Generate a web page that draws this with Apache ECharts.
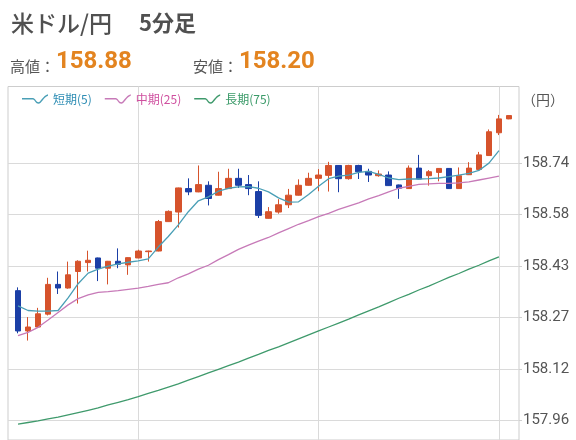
<!DOCTYPE html>
<html><head><meta charset="utf-8">
<script src="https://cdn.jsdelivr.net/npm/echarts@6/dist/echarts.min.js"></script>
<style>html,body{margin:0;padding:0;background:#fff}#c{width:576px;height:440px}</style>
</head><body><div id="c"></div>
<script>
const times = ['11:00','11:05','11:10','11:15','11:20','11:25','11:30','11:35','11:40','11:45',
 '11:50','11:55','12:00','12:05','12:10','12:15','12:20','12:25','12:30','12:35',
 '12:40','12:45','12:50','12:55','13:00','13:05','13:10','13:15','13:20','13:25',
 '13:30','13:35','13:40','13:45','13:50','13:55','14:00','14:05','14:10','14:15',
 '14:20','14:25','14:30','14:35','14:40','14:45','14:50','14:55','15:00','15:05'];
const openV = [158.352,158.230,158.242,158.281,158.371,158.360,158.410,158.437,158.451,158.420,
 158.441,158.430,158.451,158.470,158.472,158.561,158.590,158.661,158.651,158.671,
 158.641,158.661,158.692,158.673,158.652,158.571,158.590,158.612,158.641,158.671,
 158.692,158.701,158.731,158.691,158.731,158.713,158.700,158.702,158.672,158.661,
 158.723,158.700,158.710,158.722,158.661,158.703,158.719,158.761,158.830,158.872];
const closeV = [158.230,158.242,158.282,158.371,158.360,158.400,158.441,158.444,158.420,158.441,
 158.432,158.452,158.472,158.472,158.561,158.592,158.663,158.651,158.673,158.631,
 158.661,158.692,158.671,158.661,158.580,158.591,158.612,158.641,158.671,158.692,
 158.702,158.731,158.691,158.731,158.712,158.702,158.705,158.670,158.662,158.723,
 158.690,158.712,158.722,158.661,158.700,158.723,158.763,158.833,158.872,158.882];
const lowV = [158.223,158.201,158.240,158.277,158.342,158.358,158.313,158.410,158.381,158.371,
 158.420,158.400,158.450,158.440,158.471,158.560,158.543,158.641,158.650,158.610,
 158.640,158.660,158.663,158.641,158.572,158.570,158.585,158.602,158.640,158.670,
 158.653,158.652,158.650,158.688,158.690,158.681,158.697,158.669,158.630,158.660,
 158.689,158.670,158.683,158.660,158.660,158.702,158.718,158.760,158.823,158.871];
const highV = [158.362,158.272,158.300,158.391,158.410,158.440,158.444,158.473,158.452,158.442,
 158.480,158.453,158.476,158.473,158.566,158.595,158.664,158.692,158.731,158.683,
 158.712,158.721,158.721,158.702,158.683,158.605,158.629,158.660,158.689,158.709,
 158.720,158.742,158.732,158.733,158.733,158.721,158.716,158.713,158.673,158.731,
 158.763,158.717,158.723,158.723,158.725,158.741,158.772,158.840,158.884,158.883];
const ma5 = [158.306,158.292,158.290,158.290,158.292,158.330,158.373,158.405,158.417,158.426,
 158.433,158.438,158.442,158.448,158.484,158.516,158.551,158.591,158.624,158.636,
 158.653,158.662,158.666,158.667,158.662,158.651,158.633,158.620,158.621,158.643,
 158.668,158.691,158.699,158.702,158.710,158.713,158.704,158.693,158.688,158.690,
 158.690,158.691,158.693,158.697,158.702,158.707,158.716,158.738,158.776];
const ma25 = [158.216,158.226,158.241,158.263,158.286,158.309,158.328,158.339,158.347,158.349,
 158.352,158.356,158.360,158.365,158.371,158.376,158.391,158.403,158.417,158.429,
 158.446,158.461,158.477,158.490,158.502,158.513,158.527,158.540,158.553,158.564,
 158.576,158.586,158.598,158.608,158.618,158.630,158.640,158.651,158.662,158.668,
 158.674,158.675,158.677,158.677,158.678,158.681,158.687,158.693,158.699];
const ma75 = [157.948,157.953,157.958,157.964,157.969,157.976,157.983,157.990,157.997,158.006,
 158.014,158.022,158.031,158.041,158.050,158.060,158.070,158.081,158.092,158.103,
 158.114,158.125,158.136,158.148,158.159,158.171,158.182,158.194,158.206,158.218,
 158.230,158.242,158.254,158.266,158.279,158.291,158.303,158.316,158.329,158.341,
 158.354,158.366,158.379,158.392,158.404,158.417,158.429,158.442,158.454];
const yTicks = [157.96, 158.1156, 158.2712, 158.4268, 158.5824, 158.738];
const gridTimes = ['12:00','13:30','15:00'];
const seriesNames = ['短期(5)','中期(25)','長期(75)'];
const highText = '158.88', lowText = '158.20';

const cats = [''].concat(times, ['']);
const candle = times.map((t, i) => [i + 1, openV[i], closeV[i], lowV[i], highV[i]]);
const toLine = arr => arr.map((v, i) => [i + 1, v]);

const UP = '#d6532c', DOWN = '#1b3fa6';
const C5 = '#4a9fb6', C25 = '#c77ab8', C75 = '#3f9a6c';
const wave = 'path://M0,4.3 L11,4.3 C13,4.3 14.5,8.6 16.5,8.6 C18.5,8.6 21,2 26,0.6 L26,2 C21.8,3.3 19.5,10 16.5,10 C13.8,10 12.5,5.7 11,5.7 L0,5.7 Z';
const cjk = '"Noto Sans CJK JP", "Noto Sans", sans-serif';

const chart = echarts.init(document.getElementById('c'), null, {renderer: 'canvas'});
chart.setOption({
  animation: false,
  backgroundColor: '#fff',
  grid: {left: 8, right: 57, top: 86.5, height: 366.8, show: true, borderColor: '#cdcdcd', borderWidth: 1},
  legend: {
    left: 22, top: 93, padding: 0, itemWidth: 26, itemHeight: 10, itemGap: 13, icon: wave,
    textStyle: {fontSize: 12, fontFamily: cjk},
    data: [
      {name: seriesNames[0], textStyle: {color: '#2e8db4'}},
      {name: seriesNames[1], textStyle: {color: '#cf4f9f'}},
      {name: seriesNames[2], textStyle: {color: '#3a9a68'}}
    ]
  },
  xAxis: {
    type: 'category', data: cats, boundaryGap: false,
    axisLine: {show: false}, axisTick: {show: false}, axisLabel: {show: false},
    splitLine: {show: true, interval: (idx, val) => gridTimes.includes(val), lineStyle: {color: '#dadada', width: 1}}
  },
  yAxis: {
    type: 'value', position: 'right', min: 157.90, max: 158.97,
    axisLine: {show: false},
    axisTick: {show: true, inside: false, length: 3, customValues: yTicks, lineStyle: {color: '#d0d0d0'}},
    axisLabel: {customValues: yTicks, formatter: v => v.toFixed(2), margin: 4, color: '#555',
      fontSize: 15, fontFamily: 'Roboto'},
    splitLine: {show: true, lineStyle: {color: '#dadada', width: 1}}
  },
  series: [
    {type: 'candlestick', data: candle, encode: {x: 0, y: [1, 2, 3, 4]}, barWidth: 6,
     itemStyle: {color: UP, color0: DOWN, borderColor: UP, borderColor0: DOWN, borderWidth: 1}},
    {name: seriesNames[0], type: 'line', data: toLine(ma5), showSymbol: false, symbol: 'none',
     lineStyle: {color: C5, width: 1.3}, itemStyle: {color: C5}},
    {name: seriesNames[1], type: 'line', data: toLine(ma25), showSymbol: false, symbol: 'none',
     lineStyle: {color: C25, width: 1.3}, itemStyle: {color: C25}},
    {name: seriesNames[2], type: 'line', data: toLine(ma75), showSymbol: false, symbol: 'none',
     lineStyle: {color: C75, width: 1.3}, itemStyle: {color: C75}}
  ],
  graphic: [
    {type: 'text', x: 11, y: 23, style: {text: '米ドル/円', font: '500 23px ' + cjk, fill: '#505050', textVerticalAlign: 'middle'}},
    {type: 'text', x: 139, y: 23, style: {text: '5分足', font: 'bold 22px ' + cjk, fill: '#505050', textVerticalAlign: 'middle'}},
    {type: 'text', x: 10, y: 66.5, style: {text: '高値：', font: '15px ' + cjk, fill: '#555', textVerticalAlign: 'middle'}},
    {type: 'text', x: 56, y: 61.5, style: {text: highText, font: 'bold 24px Roboto', fill: '#e38420', textVerticalAlign: 'middle'}},
    {type: 'text', x: 193, y: 66.5, style: {text: '安値：', font: '15px ' + cjk, fill: '#555', textVerticalAlign: 'middle'}},
    {type: 'text', x: 239, y: 61.5, style: {text: lowText, font: 'bold 24px Roboto', fill: '#e38420', textVerticalAlign: 'middle'}},
    {type: 'text', x: 522, y: 100, style: {text: '（円）', font: '14px ' + cjk, fill: '#555', textVerticalAlign: 'middle'}}
  ]
});
</script></body></html>
